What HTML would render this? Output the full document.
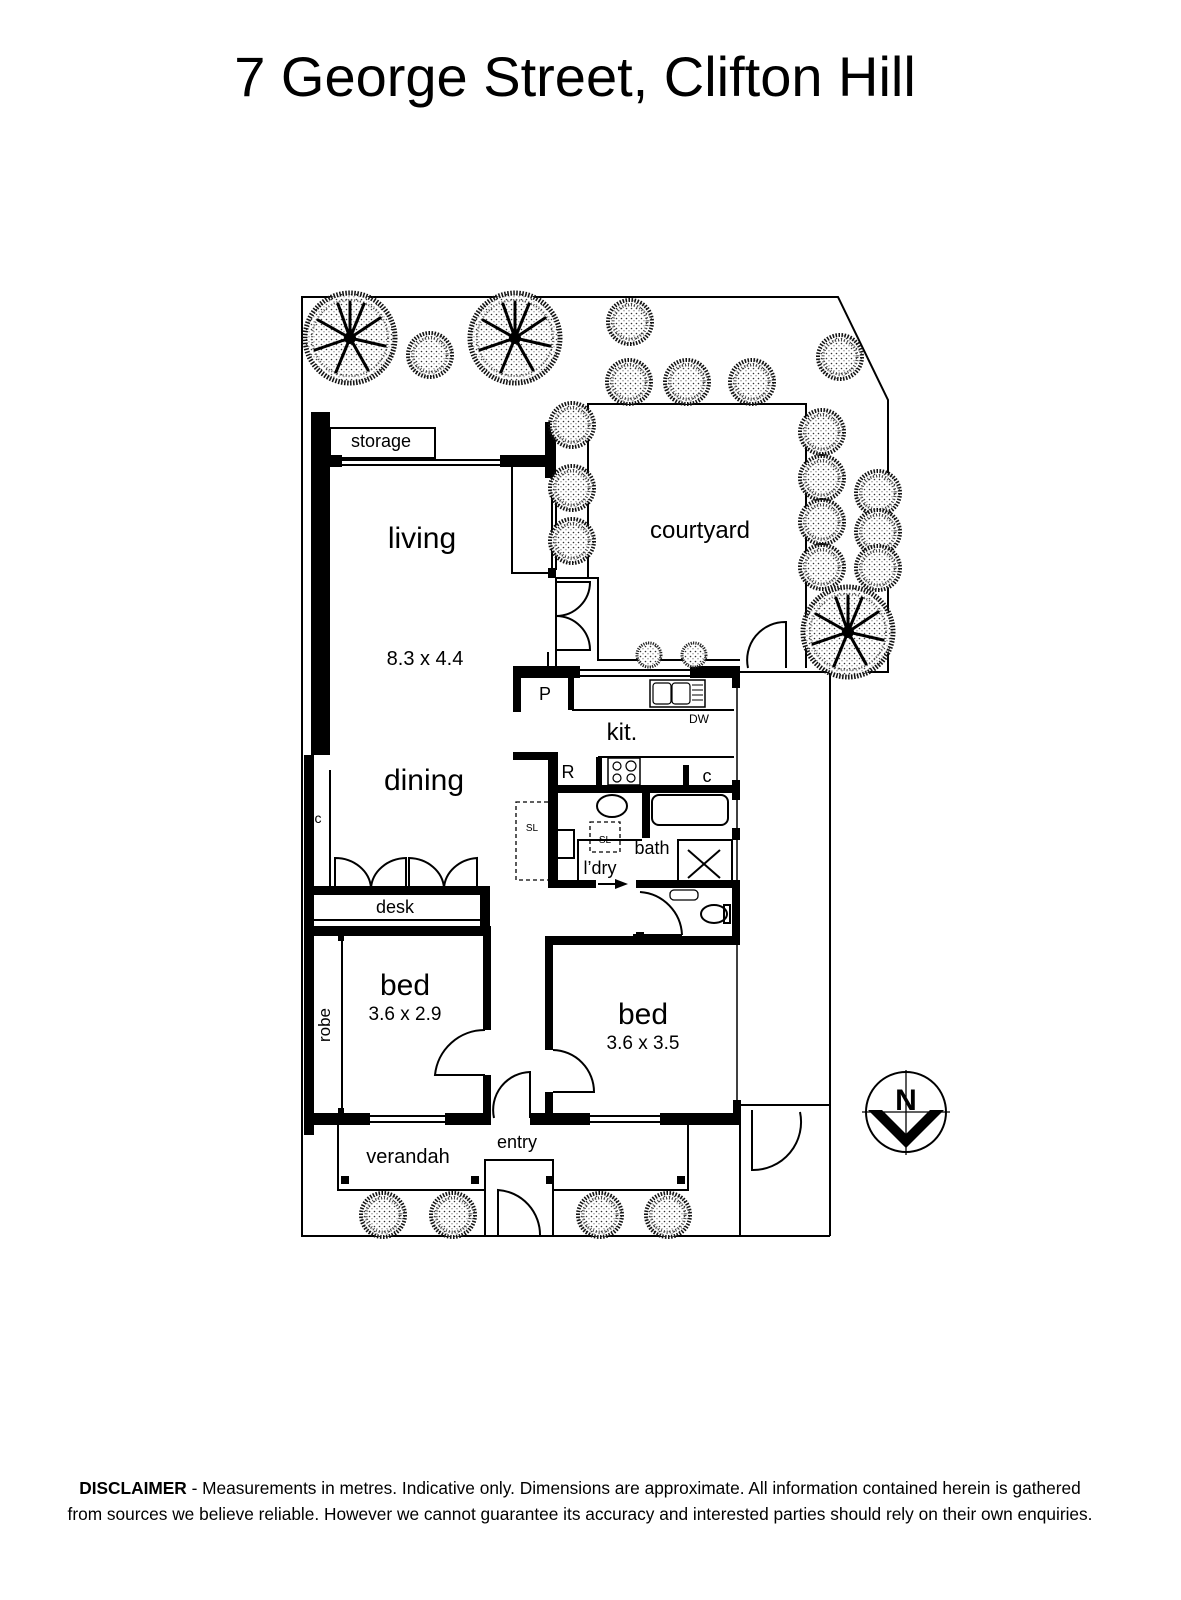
<!DOCTYPE html>
<html><head><meta charset="utf-8"><style>
body{margin:0;background:#fff}
svg{display:block}
text{font-family:"Liberation Sans",Arial,sans-serif;fill:#000}
</style></head><body>
<svg width="1181" height="1600" viewBox="0 0 1181 1600" xmlns="http://www.w3.org/2000/svg">
<defs>
<pattern id="dots" width="5" height="5" patternUnits="userSpaceOnUse">
<rect width="5" height="5" fill="#fff"/><circle cx="1.5" cy="1.5" r="0.8" fill="#333"/><circle cx="4" cy="3.8" r="0.6" fill="#555"/>
</pattern>
<g id="st"><circle r="22" fill="url(#dots)" stroke="#111" stroke-width="4" stroke-dasharray="1.5 1.5"/><circle r="17" fill="none" stroke="#444" stroke-width="3" stroke-dasharray="1 2"/></g>
<g id="sst"><circle r="12" fill="url(#dots)" stroke="#222" stroke-width="3" stroke-dasharray="1.2 1.2"/></g>
<g id="bt"><circle r="45" fill="url(#dots)" stroke="#111" stroke-width="5" stroke-dasharray="1.5 1.5"/><circle r="38" fill="none" stroke="#555" stroke-width="2" stroke-dasharray="1 2"/>
<g stroke="#000" stroke-width="3" stroke-linecap="round"><line x1="0" y1="0" x2="0" y2="-36"/><line x1="0" y1="0" x2="30" y2="-20"/><line x1="0" y1="0" x2="35" y2="8"/><line x1="0" y1="0" x2="18" y2="32"/><line x1="0" y1="0" x2="-14" y2="34"/><line x1="0" y1="0" x2="-35" y2="12"/><line x1="0" y1="0" x2="-32" y2="-18"/><line x1="0" y1="0" x2="-12" y2="-34"/><line x1="0" y1="0" x2="14" y2="-34"/></g>
<circle r="6" fill="#000"/></g>
</defs>

<text x="575" y="96" font-size="56" text-anchor="middle">7 George Street, Clifton Hill</text>

<g fill="none" stroke="#000" stroke-width="2">
<polyline points="830,1236 302,1236 302,297 838,297 888,400 888,672 740,672"/>
<line x1="830" y1="672" x2="830" y2="1236"/>
<line x1="740" y1="1105" x2="740" y2="1236"/>
<line x1="740" y1="1105" x2="830" y2="1105"/>
<polyline points="588,578 588,404 806,404 806,668"/>
<polyline points="556,578 598,578 598,660 740,660"/>
<line x1="556" y1="578" x2="556" y2="666"/>
<line x1="548" y1="652" x2="548" y2="666"/>
<path d="M786,668 V622 A38,38 0 0 0 748,668"/>
<path d="M556,582 H590 A34,34 0 0 1 556,616 M556,616 A34,34 0 0 1 590,650 H556"/>
<rect x="330" y="428" width="105" height="30"/>
<polyline points="501,466 512,466 512,573 548,573"/>
<line x1="552" y1="478" x2="552" y2="570"/><line x1="556" y1="478" x2="556" y2="570"/>
<line x1="330" y1="460" x2="500" y2="460"/><line x1="330" y1="465" x2="500" y2="465"/>
<line x1="580" y1="670" x2="690" y2="670"/><line x1="580" y1="676" x2="690" y2="676"/>
<line x1="572" y1="710" x2="734" y2="710"/>
<line x1="598" y1="757" x2="734" y2="757"/>
<rect x="650" y="680" width="55" height="27" stroke-width="1.5"/>
<rect x="653" y="683" width="18" height="21" rx="3" stroke-width="1.2"/><rect x="672" y="683" width="18" height="21" rx="3" stroke-width="1.2"/>
<line x1="692" y1="685" x2="703" y2="685" stroke-width="1"/><line x1="692" y1="690" x2="703" y2="690" stroke-width="1"/><line x1="692" y1="695" x2="703" y2="695" stroke-width="1"/><line x1="692" y1="700" x2="703" y2="700" stroke-width="1"/>
<rect x="608" y="758" width="32" height="27" stroke-width="1.5"/>
<circle cx="617" cy="766" r="4" stroke-width="1.2"/><circle cx="631" cy="766" r="5" stroke-width="1.2"/><circle cx="617" cy="778" r="4" stroke-width="1.2"/><circle cx="631" cy="778" r="4" stroke-width="1.2"/>
<line x1="737" y1="678" x2="737" y2="1110" stroke-width="1.5"/>
<rect x="652" y="795" width="76" height="30" rx="7"/>
<rect x="678" y="840" width="54" height="42"/>
<line x1="688" y1="850" x2="720" y2="878"/><line x1="720" y1="850" x2="688" y2="878"/>
<ellipse cx="612" cy="806" rx="15" ry="11"/>
<polyline points="642,840 578,840 578,882"/>
<rect x="556" y="830" width="18" height="28"/>
<rect x="590" y="822" width="30" height="30" stroke-dasharray="4 3" stroke-width="1.3"/>
<rect x="516" y="802" width="38" height="78" stroke-dasharray="4 3" stroke-width="1.3"/>
<path d="M640,892 A45,45 0 0 1 682,935"/>
<rect x="670" y="890" width="28" height="10" rx="4" stroke-width="1.3"/>
<ellipse cx="714" cy="914" rx="13" ry="9"/>
<rect x="724" y="905" width="6" height="18"/>
<line x1="633" y1="935" x2="682" y2="935"/>
<line x1="598" y1="884" x2="625" y2="884"/>
<path d="M335,888 V858 A36,32 0 0 1 371,888 M406,888 V858 A36,32 0 0 0 371,888 M409,888 V858 A36,32 0 0 1 444,888 M477,888 V858 A36,32 0 0 0 444,888"/>
<line x1="330" y1="770" x2="330" y2="888"/>
<line x1="310" y1="920" x2="485" y2="920"/>
<line x1="342" y1="935" x2="342" y2="1115"/>
<path d="M485,1030 A50,50 0 0 0 435,1075 H485"/>
<path d="M553,1050 A42,42 0 0 1 594,1092 H553"/>
<path d="M530,1118 V1072 A38,38 0 0 0 494,1118"/>
<line x1="370" y1="1116" x2="445" y2="1116"/><line x1="370" y1="1122" x2="445" y2="1122"/>
<line x1="590" y1="1116" x2="660" y2="1116"/><line x1="590" y1="1122" x2="660" y2="1122"/>
<polyline points="338,1125 338,1190 485,1190"/><polyline points="553,1190 688,1190 688,1125"/>
<rect x="485" y="1160" width="68" height="76"/>
<path d="M498,1236 V1190 A45,45 0 0 1 540,1236"/>
<path d="M752,1110 V1170 A48,48 0 0 0 800,1112"/>
<circle cx="906" cy="1112" r="40"/>
<line x1="906" y1="1070" x2="906" y2="1155" stroke-width="1.3"/><line x1="862" y1="1112" x2="950" y2="1112" stroke-width="1.3"/>
</g>
<path d="M868,1110 L906,1148 L944,1110 L930,1110 L906,1134 L882,1110Z" fill="#000"/>
<text x="906" y="1110" font-size="30" font-weight="bold" text-anchor="middle">N</text>
<path d="M615,879 L628,884 L615,889Z" fill="#000"/>

<g fill="#000">
<rect x="311" y="412" width="19" height="343"/>
<rect x="304" y="755" width="10" height="380"/>
<rect x="330" y="455" width="12" height="12"/>
<rect x="500" y="455" width="55" height="12"/>
<rect x="545" y="422" width="11" height="56"/>
<rect x="548" y="568" width="8" height="10"/>
<rect x="513" y="666" width="67" height="12"/><rect x="690" y="666" width="50" height="12"/>
<rect x="513" y="678" width="8" height="34"/><rect x="568" y="678" width="6" height="32"/>
<rect x="513" y="752" width="42" height="8"/>
<rect x="548" y="752" width="10" height="136"/>
<rect x="596" y="757" width="6" height="30"/>
<rect x="683" y="765" width="6" height="22"/>
<rect x="548" y="785" width="192" height="8"/>
<rect x="642" y="792" width="8" height="46"/>
<rect x="732" y="678" width="8" height="10"/><rect x="732" y="780" width="8" height="20"/><rect x="732" y="828" width="8" height="12"/><rect x="732" y="880" width="8" height="62"/>
<rect x="548" y="880" width="48" height="8"/><rect x="636" y="880" width="104" height="8"/>
<rect x="636" y="932" width="8" height="12"/>
<rect x="310" y="886" width="180" height="9"/>
<rect x="480" y="886" width="10" height="40"/>
<rect x="304" y="926" width="186" height="10"/>
<rect x="483" y="926" width="8" height="104"/>
<rect x="483" y="1075" width="8" height="45"/>
<rect x="545" y="936" width="195" height="9"/>
<rect x="545" y="936" width="8" height="114"/>
<rect x="545" y="1092" width="8" height="28"/>
<rect x="338" y="935" width="6" height="6"/><rect x="338" y="1108" width="6" height="6"/>
<rect x="304" y="1113" width="66" height="12"/><rect x="445" y="1113" width="46" height="12"/>
<rect x="530" y="1113" width="60" height="12"/><rect x="660" y="1113" width="80" height="12"/>
<rect x="733" y="1100" width="8" height="25"/>
<rect x="341" y="1176" width="8" height="8"/><rect x="471" y="1176" width="8" height="8"/><rect x="546" y="1176" width="8" height="8"/><rect x="677" y="1176" width="8" height="8"/>
</g>

<use href="#bt" x="350" y="338"/><use href="#bt" x="515" y="338"/><use href="#bt" x="848" y="632"/>
<use href="#st" x="430" y="355"/><use href="#st" x="630" y="322"/><use href="#st" x="629" y="382"/><use href="#st" x="687" y="382"/><use href="#st" x="752" y="382"/><use href="#st" x="840" y="357"/>
<use href="#st" x="572" y="425"/><use href="#st" x="572" y="488"/><use href="#st" x="572" y="541"/>
<use href="#st" x="822" y="432"/><use href="#st" x="822" y="478"/><use href="#st" x="822" y="522"/><use href="#st" x="822" y="567"/>
<use href="#st" x="878" y="493"/><use href="#st" x="878" y="532"/><use href="#st" x="878" y="568"/>
<use href="#sst" x="649" y="655"/><use href="#sst" x="694" y="655"/>
<use href="#st" x="383" y="1215"/><use href="#st" x="453" y="1215"/><use href="#st" x="600" y="1215"/><use href="#st" x="668" y="1215"/>

<text x="381" y="447" font-size="18" text-anchor="middle">storage</text>
<text x="422" y="548" font-size="30" text-anchor="middle">living</text>
<text x="700" y="538" font-size="24" text-anchor="middle">courtyard</text>
<text x="425" y="665" font-size="20" text-anchor="middle">8.3 x 4.4</text>
<text x="424" y="790" font-size="30" text-anchor="middle">dining</text>
<text x="545" y="700" font-size="18" text-anchor="middle">P</text>
<text x="622" y="740" font-size="24" text-anchor="middle">kit.</text>
<text x="699" y="723" font-size="12" text-anchor="middle">DW</text>
<text x="568" y="778" font-size="18" text-anchor="middle">R</text>
<text x="707" y="782" font-size="18" text-anchor="middle">c</text>
<text x="532" y="831" font-size="10" text-anchor="middle">SL</text>
<text x="605" y="843" font-size="10" text-anchor="middle">SL</text>
<text x="652" y="854" font-size="18" text-anchor="middle">bath</text>
<text x="600" y="874" font-size="18" text-anchor="middle">l’dry</text>
<text x="318" y="823" font-size="14" text-anchor="middle">c</text>
<text x="395" y="913" font-size="18" text-anchor="middle">desk</text>
<text x="405" y="995" font-size="30" text-anchor="middle">bed</text>
<text x="405" y="1020" font-size="19" text-anchor="middle">3.6 x 2.9</text>
<text x="643" y="1024" font-size="30" text-anchor="middle">bed</text>
<text x="643" y="1049" font-size="19" text-anchor="middle">3.6 x 3.5</text>
<text x="330" y="1025" font-size="17" text-anchor="middle" transform="rotate(-90 330 1025)">robe</text>
<text x="517" y="1148" font-size="18" text-anchor="middle">entry</text>
<text x="408" y="1163" font-size="20" text-anchor="middle">verandah</text>

<text x="580" y="1494" font-size="17.3" text-anchor="middle"><tspan font-weight="bold">DISCLAIMER</tspan> - Measurements in metres. Indicative only. Dimensions are approximate. All information contained herein is gathered</text>
<text x="580" y="1520" font-size="17.3" text-anchor="middle">from sources we believe reliable. However we cannot guarantee its accuracy and interested parties should rely on their own enquiries.</text>
</svg>
</body></html>
